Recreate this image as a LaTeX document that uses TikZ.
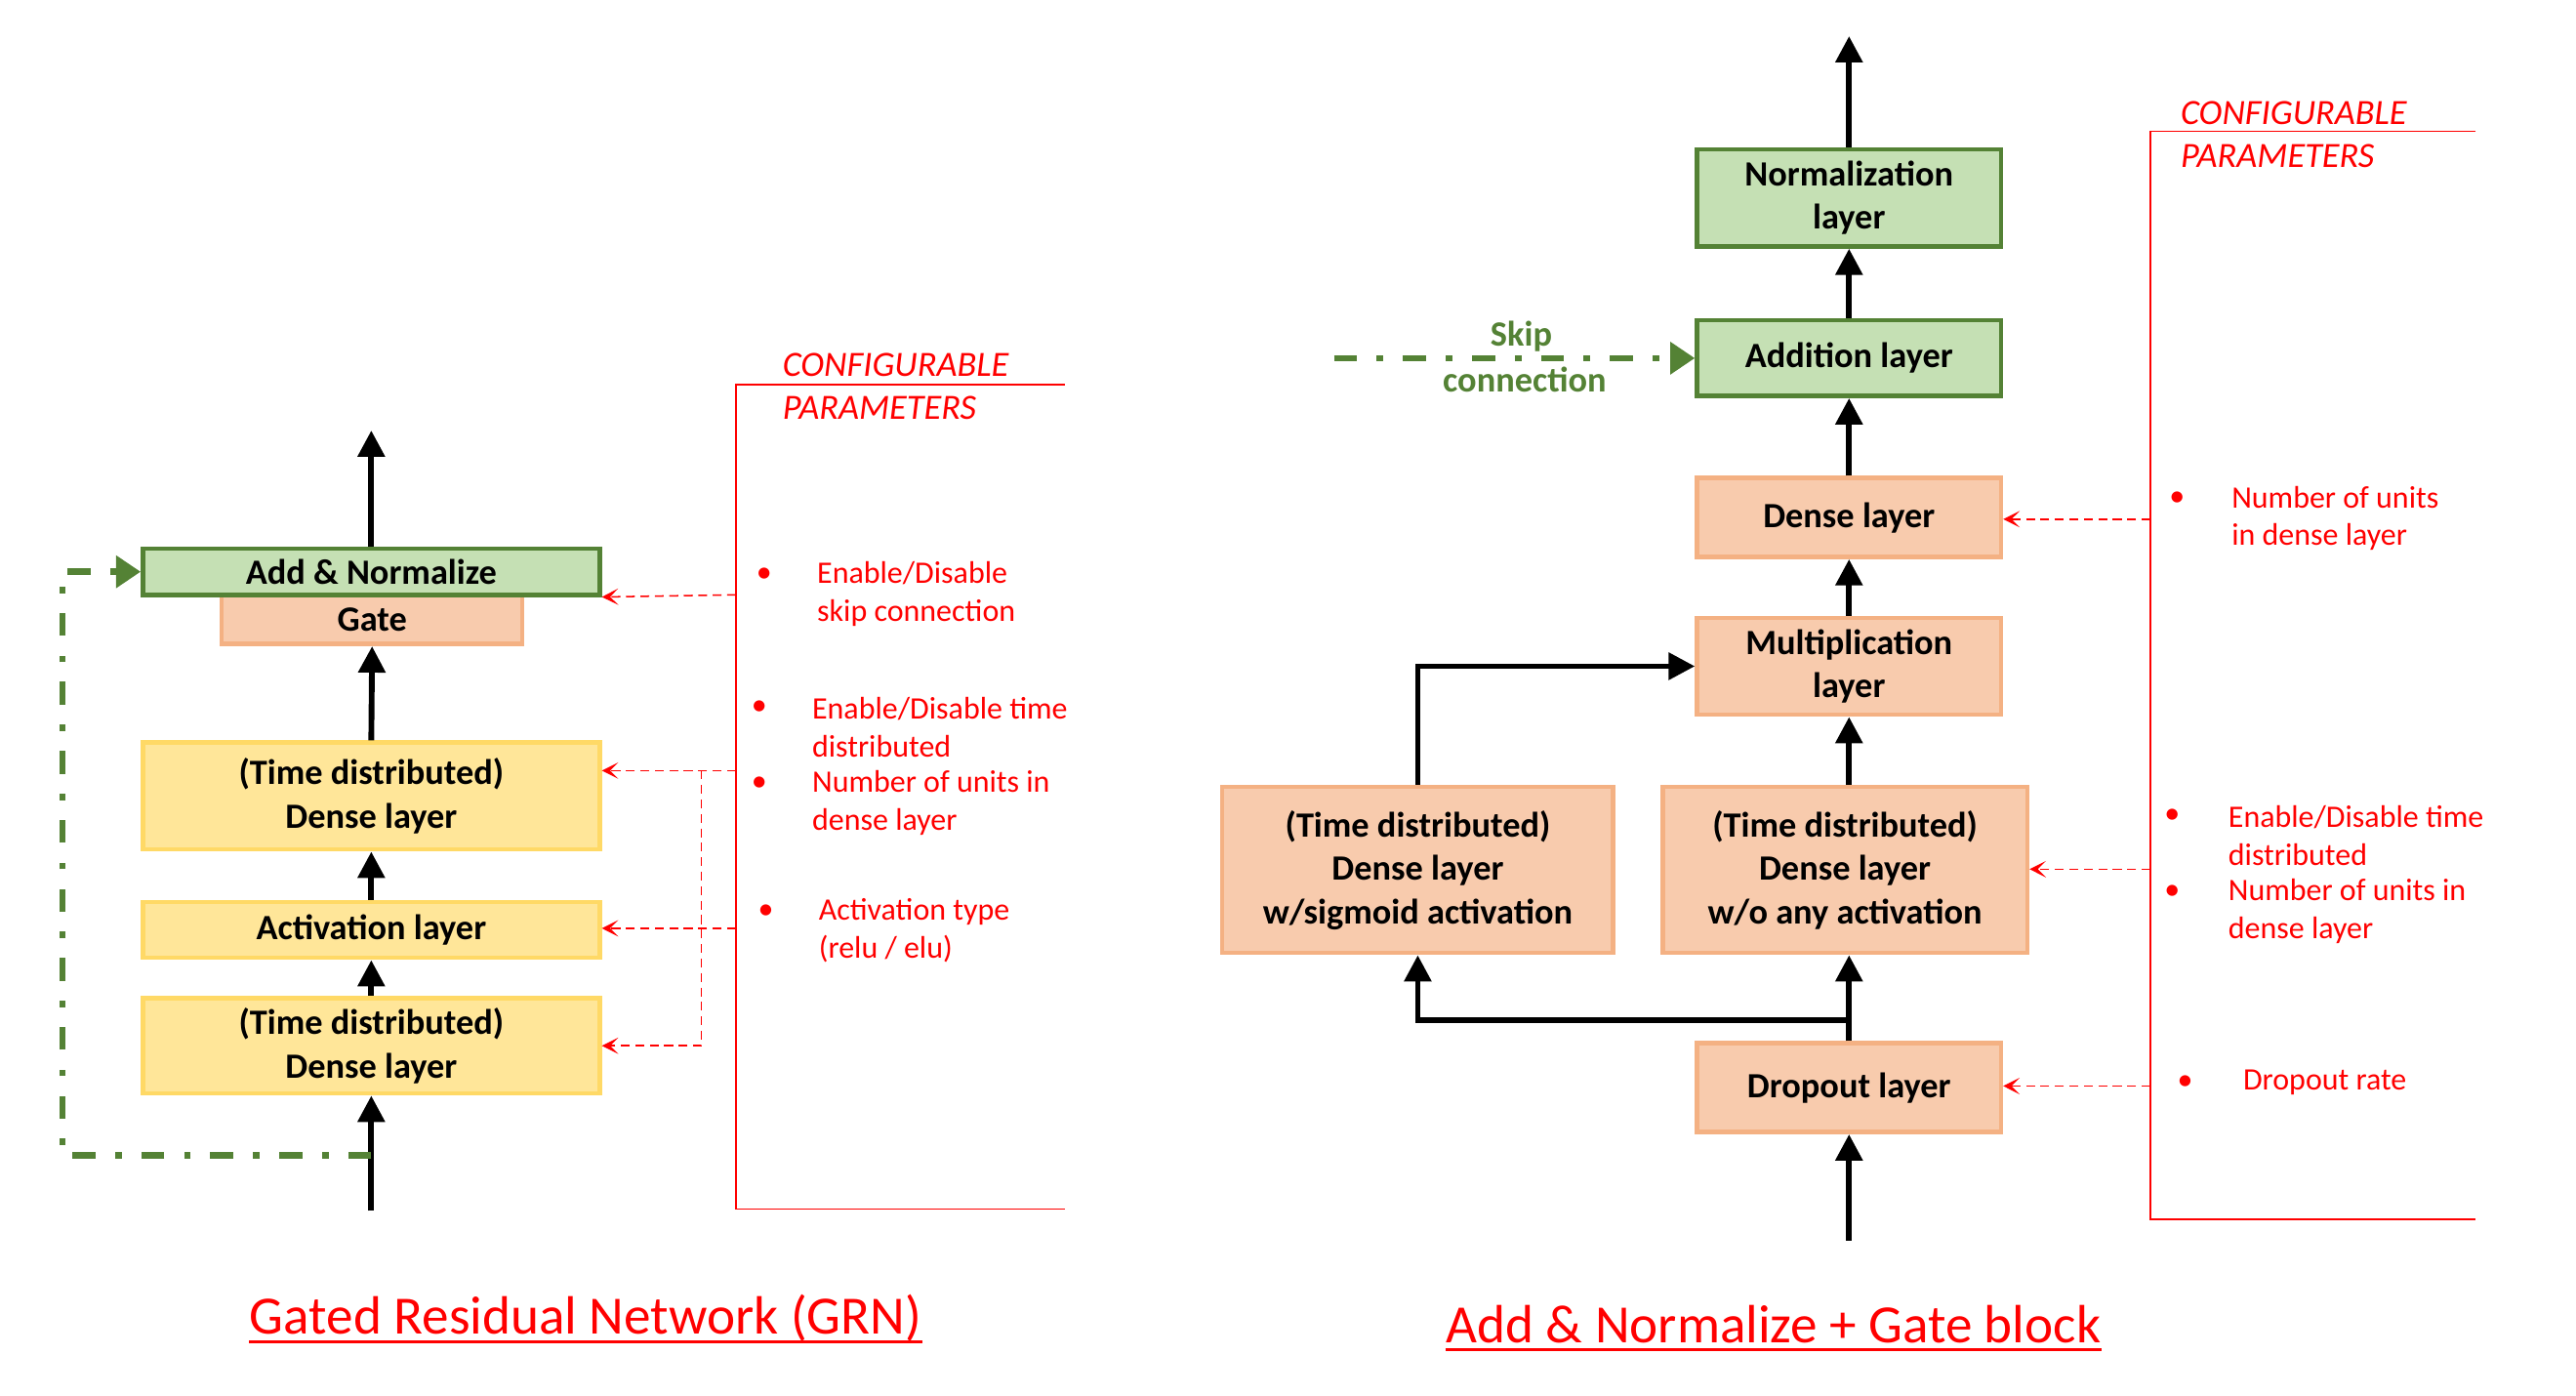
\documentclass[tikz,border=0pt]{standalone}
\usepackage{fontspec}
\setmainfont{Carlito}
\usetikzlibrary{arrows.meta}
\definecolor{boxgreen}{HTML}{C5E0B4}
\definecolor{linegreen}{HTML}{548235}
\definecolor{boxorange}{HTML}{F8CBAD}
\definecolor{lineorange}{HTML}{F4B183}
\definecolor{boxyellow}{HTML}{FFE699}
\definecolor{lineyellow}{HTML}{FFD966}
\definecolor{paramred}{HTML}{FF0000}

\begin{document}
\begin{tikzpicture}[x=0.5pt,y=-0.5pt,
  layer/.style={draw,line width=1.35pt,inner sep=0pt,align=center,
    font=\fontsize{10.8}{13.2}\selectfont\bfseries},
  greenlayer/.style={layer,draw=linegreen,fill=boxgreen},
  orangelayer/.style={layer,draw=lineorange,fill=boxorange},
  yellowlayer/.style={layer,draw=lineyellow,fill=boxyellow},
  flow/.style={line width=1.75pt,-{Triangle[length=8pt,width=8pt]}},
  skipline/.style={draw=linegreen,line width=2pt,
    dash pattern=on 7pt off 6pt on 2pt off 6pt,-{Triangle[length=7.5pt,width=9.5pt]}},
  param/.style={draw=paramred,line width=0.45pt},
  paramarrow/.style={param,dash pattern=on 2.7pt off 1.7pt,
    -{Stealth[length=5pt,width=5pt,inset=2.5pt]}},
  note/.style={text=paramred,anchor=west,align=left,inner sep=0pt,
    font=\fontsize{9.5}{11.5}\selectfont},
  heading/.style={text=paramred,anchor=west,inner sep=0pt,
    font=\fontsize{10.8}{13}\selectfont\itshape},
  caption/.style={text=paramred,anchor=base,inner sep=0pt,
    font=\fontsize{16.4}{19}\selectfont},
  skiplabel/.style={text=linegreen,inner sep=0pt,
    font=\fontsize{10.8}{13}\selectfont\bfseries}]
\useasboundingbox (0,0) rectangle (1568,849.6);

% Gated Residual Network
\node[orangelayer,minimum width=91.5pt,minimum height=15pt] (gate) at (226.5,377) {Gate};
\node[greenlayer,minimum width=139pt,minimum height=14pt] (addnorm) at (226,348) {Add \& Normalize};
\node[yellowlayer,minimum width=139pt,minimum height=32.5pt] (tdense1) at (226,484.5) {(Time distributed)\\Dense layer};
\node[yellowlayer,minimum width=139pt,minimum height=17pt] (actlayer) at (226,566) {Activation layer};
\node[yellowlayer,minimum width=139pt,minimum height=29pt] (tdense2) at (226,636.5) {(Time distributed)\\Dense layer};

\coordinate (grnin) at (226,737);
\coordinate (grnout) at (226,262);
\coordinate (grnsplit) at (226,703);
\coordinate (grnleft) at (38,703);
\draw[flow] (grnin) -- (tdense2.south);
\draw[flow] (tdense2.north) -- (actlayer.south);
\draw[flow] (actlayer.north) -- (tdense1.south);
\draw[flow] (tdense1.north) -- (gate.south);
\draw[flow] (addnorm.north) -- (grnout);
\draw[skipline] (grnsplit) -- (grnleft) |- (addnorm.west);

\draw[param] (648,234) -- (448,234) -- (448,736) -- (648,736);
\node[heading] (grnconf) at (476,222) {CONFIGURABLE};
\node[heading] (grnparam) at (476,248) {PARAMETERS};
\coordinate (pskip) at (448,362);
\coordinate (ptime) at (448,469);
\coordinate (pact) at (448,565);
\coordinate (pbranch) at (427,469);
\draw[paramarrow] (pskip) -- (addnorm.south east);
\draw[paramarrow] (ptime) -- (ptime -| tdense1.east);
\draw[paramarrow] (pact) -- (pact -| actlayer.east);
\draw[paramarrow] (pbranch) |- (tdense2.east);

\node[note] (bskip) at (460,350) {•};
\node[note] (nskip) at (497,361.5) {Enable/Disable\\skip connection};
\node[note] (btime) at (457,431) {•};
\node[note] (ntime) at (494,442.5) {Enable/Disable time\\distributed};
\node[note] (bunits) at (457,477) {•};
\node[note] (nunits) at (494,488.5) {Number of units in\\dense layer};
\node[note] (bact) at (461,555) {•};
\node[note] (nact) at (498,566.5) {Activation type\\(relu / elu)};

\node[caption] (grntitle) at (356.5,812) {Gated Residual Network (GRN)};
\draw[paramred,line width=1pt] ([yshift=-2.3pt]grntitle.base west) -- ([yshift=-2.3pt]grntitle.base east);

% Add & Normalize + Gate block
\node[greenlayer,minimum width=92.5pt,minimum height=29.5pt] (normlayer) at (1125.5,120.5) {Normalization\\layer};
\node[greenlayer,minimum width=92.5pt,minimum height=23pt] (addlayer) at (1125.5,218) {Addition layer};
\node[orangelayer,minimum width=92.5pt,minimum height=24pt] (denselayer) at (1125.5,315) {Dense layer};
\node[orangelayer,minimum width=92.5pt,minimum height=29.5pt] (multlayer) at (1125.5,405.5) {Multiplication\\layer};
\node[orangelayer,minimum width=119pt,minimum height=50.5pt] (tdsigmoid) at (863,529.5) {(Time distributed)\\Dense layer\\w/sigmoid activation};
\node[orangelayer,minimum width=111pt,minimum height=50.5pt] (tdlinear) at (1123,529.5) {(Time distributed)\\Dense layer\\w/o any activation};
\node[orangelayer,minimum width=92.5pt,minimum height=27pt] (droplayer) at (1125.5,662) {Dropout layer};

\coordinate (gatein) at (1125.5,755);
\coordinate (gateout) at (1125.5,22);
\coordinate (gatesplit) at (1125.5,621);
\draw[flow] (gatein) -- (droplayer.south);
\draw[flow] (droplayer.north) -- (droplayer.north |- tdlinear.south);
\draw[flow] (gatesplit) -| (tdsigmoid.south);
\draw[flow] (tdsigmoid.north) |- (multlayer.west);
\draw[flow] (multlayer.south |- tdlinear.north) -- (multlayer.south);
\draw[flow] (multlayer.north) -- (denselayer.south);
\draw[flow] (denselayer.north) -- (addlayer.south);
\draw[flow] (addlayer.north) -- (normlayer.south);
\draw[flow] (normlayer.north) -- (gateout);

\coordinate (skipin) at (812,218);
\draw[skipline] (skipin) -- (addlayer.west);
\node[skiplabel] (skiptop) at (926,205) {Skip};
\node[skiplabel] (skipbot) at (928,231) {connection};

\draw[param] (1507,80) -- (1309,80) -- (1309,742) -- (1507,742);
\node[heading] (gateconf) at (1327,69) {CONFIGURABLE};
\node[heading] (gateparam) at (1327,95) {PARAMETERS};
\coordinate (pdense) at (1309,316);
\coordinate (ptd) at (1309,529);
\coordinate (pdrop) at (1309,661);
\draw[paramarrow] (pdense) -- (pdense -| denselayer.east);
\draw[paramarrow] (ptd) -- (ptd -| tdlinear.east);
\draw[paramarrow] (pdrop) -- (pdrop -| droplayer.east);

\node[note] (bdense) at (1320,304) {•};
\node[note] (ndense) at (1358,315.5) {Number of units\\in dense layer};
\node[note] (btd) at (1317,497) {•};
\node[note] (ntd) at (1356,508.5) {Enable/Disable time\\distributed};
\node[note] (btdunits) at (1317,543) {•};
\node[note] (ntdunits) at (1356,554.5) {Number of units in\\dense layer};
\node[note] (bdrop) at (1325,659) {•};
\node[note] (ndrop) at (1365,659) {Dropout rate};

\node[caption] (gatetitle) at (1079.5,817) {Add \& Normalize + Gate block};
\draw[paramred,line width=1pt] ([yshift=-2.3pt]gatetitle.base west) -- ([yshift=-2.3pt]gatetitle.base east);
\end{tikzpicture}
\end{document}
